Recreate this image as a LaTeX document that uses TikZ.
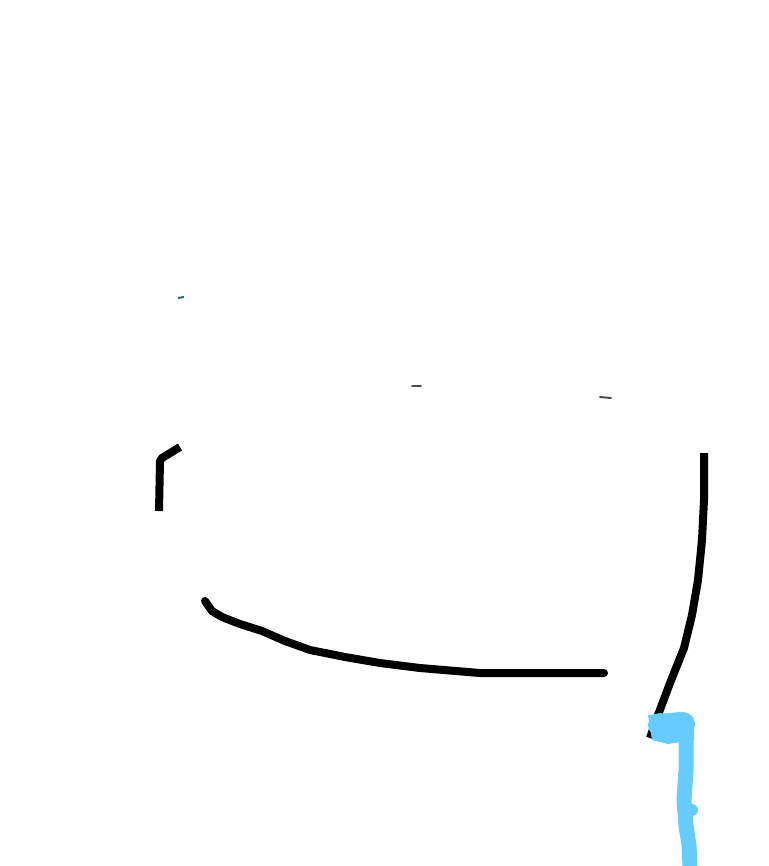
\documentclass[tikz,border=0pt]{standalone}
\usepackage{tikz}
\usetikzlibrary{calc}

\definecolor{skyblue}{RGB}{102,204,255}
\definecolor{tealspeck}{RGB}{40,110,110}

\begin{document}
\begin{tikzpicture}[x=0.02cm, y=-0.02cm]
        % Define styles for strokes
        \tikzstyle{pen} = [draw=black, line width=8*0.02cm, line cap=round, line join=round]
        \tikzstyle{marker} = [draw=skyblue, line width=15*0.02cm, line cap=round, line join=round]
        \tikzstyle{speck} = [draw=black!70, line width=2*0.02cm, line cap=round]
        \useasboundingbox (0,0) rectangle (768,866);

        % Left bracket
        \draw[pen, line cap=butt] (180,447) -- (162,458) -- (160,461) -- (159,511);

        % Bottom curve
        \draw[pen] (205,601) -- (212,611) -- (222,617) -- (240,624) -- (262,631)
                -- (285,641) -- (310,650) -- (345,657) -- (380,663) -- (420,668)
                -- (480,673) -- (540,673) -- (598,673) -- (604,673);

        % Right side
        \draw[pen, line cap=butt] (704,453) -- (704,500) -- (702,540) -- (698,580)
                -- (692,615) -- (684,648) -- (670,683) -- (658,715) -- (650,738);

        % Blue stroke
        \fill[skyblue] (648,715) -- (680,712) -- (694,722) -- (694,740) -- (668,744) -- (652,740) -- cycle;
        \fill[skyblue] (660,725) circle (12);
        \fill[skyblue] (683,724) circle (12);
        \draw[marker] (686,730) -- (686,770) -- (684,800) -- (686,826) -- (689,845) -- (690,866);
        \fill[skyblue] (692,810) circle (6);

        % Specks
        \draw[speck] (412,386) -- (421,386);
        \draw[speck] (600,397) -- (611,398);
        \draw[draw=tealspeck, line width=2*0.02cm] (178,298) -- (184,297);
    \end{tikzpicture}
\end{document}
